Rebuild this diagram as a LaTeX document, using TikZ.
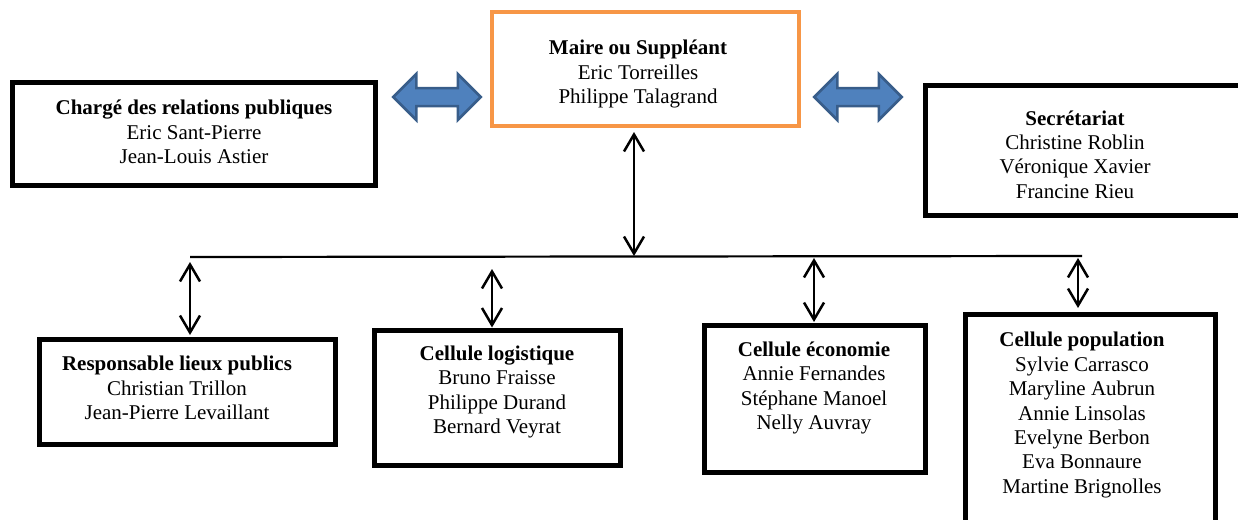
\documentclass[tikz,border=0pt]{standalone}
\usepackage{fontspec}
\setmainfont{Liberation Serif}
\usetikzlibrary{arrows.meta,shapes.arrows}
\definecolor{orangeline}{HTML}{F79646}
\definecolor{arrowfill}{HTML}{4F81BD}
\definecolor{arrowedge}{HTML}{385D8A}
\begin{document}
\begin{tikzpicture}[x=1pt,y=-1pt,
  frame/.style={draw=black, line width=5pt, inner sep=0pt},
  txt/.style={align=center, inner sep=0pt, font=\fontsize{21}{24.4}\selectfont},
  link/.style={line width=2.5pt, {Straight Barb[length=17pt,width=20pt]}-{Straight Barb[length=17pt,width=20pt]}},
  bar/.style={line width=2.2pt},
  blockarrow/.style={double arrow, draw=arrowedge, fill=arrowfill, line width=2.5pt,
    minimum height=87.5pt, minimum width=43.5pt, inner xsep=0pt, inner ysep=7.75pt,
    double arrow head extend=14pt, double arrow tip angle=90}
]
\useasboundingbox (0,0) rectangle (1238,519);
\clip (0,0) rectangle (1238,519);

% boxes
\node[frame, draw=orangeline, line width=4pt, minimum width=307pt, minimum height=114pt] (maire) at (645.5,69) {};
\node[frame, minimum width=363pt, minimum height=103pt] (charge) at (194,134) {};
\node[frame, minimum width=334.5pt, minimum height=130pt] (secr) at (1092.75,150.5) {};
\node[frame, minimum width=296pt, minimum height=105pt] (resp) at (187.5,392) {};
\node[frame, minimum width=246pt, minimum height=135pt] (logi) at (497.5,397.5) {};
\node[frame, minimum width=221pt, minimum height=147pt] (econ) at (815,399) {};
\node[frame, minimum width=250pt, minimum height=230.5pt] (popu) at (1090.5,429.75) {};

% texts
\node[txt] (mairet) at (638,74) {\textbf{Maire ou Suppléant}\\Eric Torreilles\\Philippe Talagrand};
\node[txt] (charget) at (194,132) {\textbf{Chargé des relations publiques}\\Eric Sant-Pierre\\Jean-Louis Astier};
\node[txt] (secrt) at (1075,154.5) {\textbf{Secrétariat}\\Christine Roblin\\Véronique Xavier\\Francine Rieu};
\node[txt] (respt) at (177,388) {\textbf{Responsable lieux publics}\\Christian Trillon\\Jean-Pierre Levaillant};
\node[txt] (logit) at (497,392) {\textbf{Cellule logistique}\\Bruno Fraisse\\Philippe Durand\\Bernard Veyrat};
\node[txt] (econt) at (814,388) {\textbf{Cellule économie}\\Annie Fernandes\\Stéphane Manoel\\Nelly Auvray};
\node[txt] (poput) at (1082,415) {\textbf{Cellule population}\\Sylvie Carrasco\\Maryline Aubrun\\Annie Linsolas\\Evelyne Berbon\\Eva Bonnaure\\Martine Brignolles};

% block arrows
\node[blockarrow] (bleft) at (437,97) {};
\node[blockarrow] (bright) at (858,97) {};

% connectors
\coordinate (hl) at (190,257);
\coordinate (hr) at (1082,256);
\coordinate (m) at (634,256);
\draw[bar] (hl) -- (hr);
\draw[link, shorten <=4pt] (maire.south -| m) -- (m);

\coordinate (a1) at (190,262);
\coordinate (a2) at (492,269);
\coordinate (a3) at (814,258);
\coordinate (a4) at (1078,258);
\draw[link, shorten >=2pt] (a1) -- (a1 |- resp.north);
\draw[link] (a2) -- (a2 |- logi.north);
\draw[link, shorten >=1pt] (a3) -- (a3 |- econ.north);
\draw[link, shorten >=4pt] (a4) -- (a4 |- popu.north);
\end{tikzpicture}
\end{document}
